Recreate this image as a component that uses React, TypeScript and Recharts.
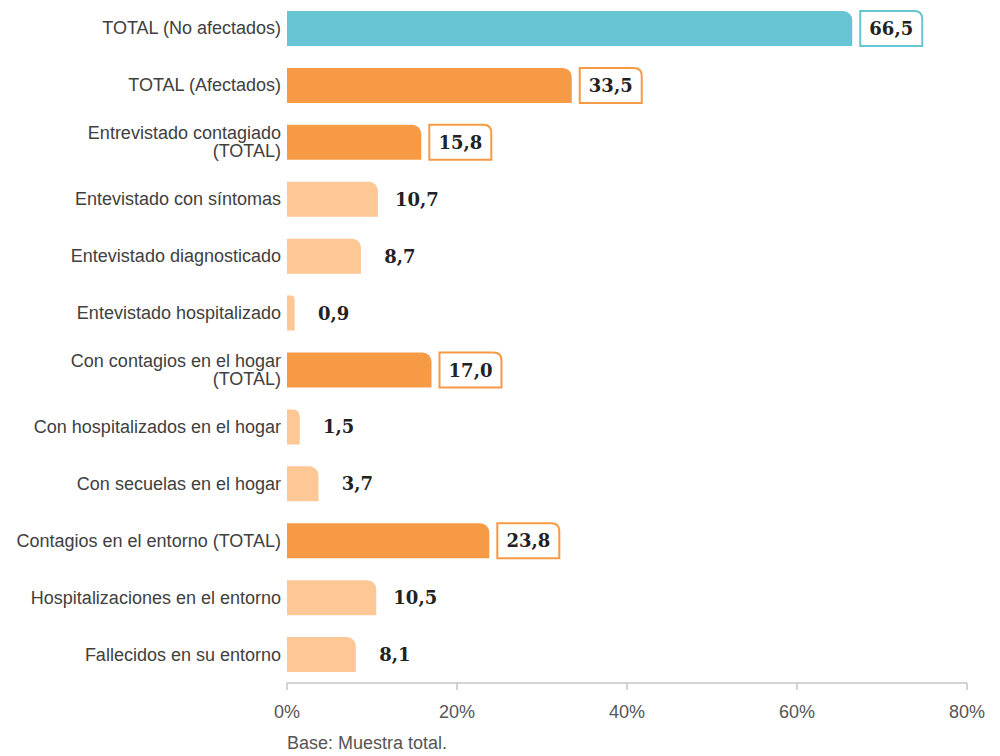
import { BarChart, Bar, XAxis, YAxis, Cell, LabelList } from 'recharts'

// ── Data ─────────────────────────────────────────────────────────
const categories = [
  'TOTAL (No afectados)',
  'TOTAL (Afectados)',
  'Entrevistado contagiado\n(TOTAL)',
  'Entevistado con síntomas',
  'Entevistado diagnosticado',
  'Entevistado hospitalizado',
  'Con contagios en el hogar\n(TOTAL)',
  'Con hospitalizados en el hogar',
  'Con secuelas en el hogar',
  'Contagios en el entorno (TOTAL)',
  'Hospitalizaciones en el entorno',
  'Fallecidos en su entorno',
]
const values = [66.5, 33.5, 15.8, 10.7, 8.7, 0.9, 17.0, 1.5, 3.7, 23.8, 10.5, 8.1]
// 'none' = not affected, 'total' = subtotal (boxed label), 'sub' = detail row
const kinds = ['none', 'total', 'total', 'sub', 'sub', 'sub', 'total', 'sub', 'sub', 'total', 'sub', 'sub']
const xTicks = [0, 20, 40, 60, 80]

const COLORS: Record<string, string> = {
  none: '#67c4d3',
  total: '#f79a45',
  sub: '#fdc896',
}

const data = categories.map((name, i) => ({ name, value: values[i], kind: kinds[i] }))

const fmt = (v: number) => v.toFixed(1).replace('.', ',')

const CategoryTick = ({ x, y, payload }: any) => {
  const lines = String(payload.value).split('\n')
  const startDy = lines.length > 1 ? -3 : 6
  return (
    <text x={x} y={y} textAnchor="end" fill="#404040" fontSize={18} fontFamily="'Liberation Sans', Arial, sans-serif">
      {lines.map((l, i) => (
        <tspan key={i} x={x} dy={i === 0 ? startDy : 18}>{l}</tspan>
      ))}
    </text>
  )
}

const ValueLabel = (props: any) => {
  const { x, y, width, height, value, index } = props
  const kind = kinds[index]
  const boxX = x + width + 8
  const boxW = 62
  const cx = boxX + boxW / 2
  const r = 8
  const boxed = kind !== 'sub'
  const path = `M${boxX},${y} H${boxX + boxW - r} Q${boxX + boxW},${y} ${boxX + boxW},${y + r} V${y + height} H${boxX} Z`
  return (
    <g>
      {boxed && <path d={path} fill="#fff" stroke={COLORS[kind]} strokeWidth={2} />}
      <text x={cx} y={y + height / 2 + 6.5} textAnchor="middle" fill="#222" fontSize={18} fontWeight="bold" fontFamily="'DejaVu Serif', serif">
        {fmt(value)}
      </text>
    </g>
  )
}

export default function App() {
  return (
    <div style={{ position: 'absolute', left: 0, top: 0, width: 1000, height: 756, background: '#fff' }}>
      <BarChart
        width={1000}
        height={756}
        data={data}
        layout="vertical"
        margin={{ top: 0, right: 33, bottom: 43, left: 0 }}
        barCategoryGap={0}
      >
        <XAxis
          type="number"
          domain={[0, 80]}
          ticks={xTicks}
          tickFormatter={v => `${v}%`}
          axisLine={{ stroke: '#c4c4c4', strokeWidth: 1.5 }}
          tickLine={{ stroke: '#c4c4c4', strokeWidth: 1.5 }}
          tickSize={7}
          tickMargin={15}
          height={30}
          tick={{ fill: '#555', fontSize: 18, fontFamily: "'Liberation Sans', Arial, sans-serif" }}
        />
        <YAxis
          type="category"
          dataKey="name"
          width={287}
          axisLine={false}
          tickLine={false}
          tickSize={0}
          tickMargin={6}
          interval={0}
          tick={<CategoryTick />}
        />
        <Bar dataKey="value" barSize={35} radius={[0, 9, 0, 0]} isAnimationActive={false}>
          {data.map((d, i) => (
            <Cell key={i} fill={COLORS[d.kind]} />
          ))}
          <LabelList dataKey="value" content={<ValueLabel />} />
        </Bar>
      </BarChart>
      <div style={{ position: 'absolute', left: 287, top: 733, fontSize: 18, color: '#555', fontFamily: "'Liberation Sans', Arial, sans-serif" }}>
        Base: Muestra total.
      </div>
    </div>
  )
}
